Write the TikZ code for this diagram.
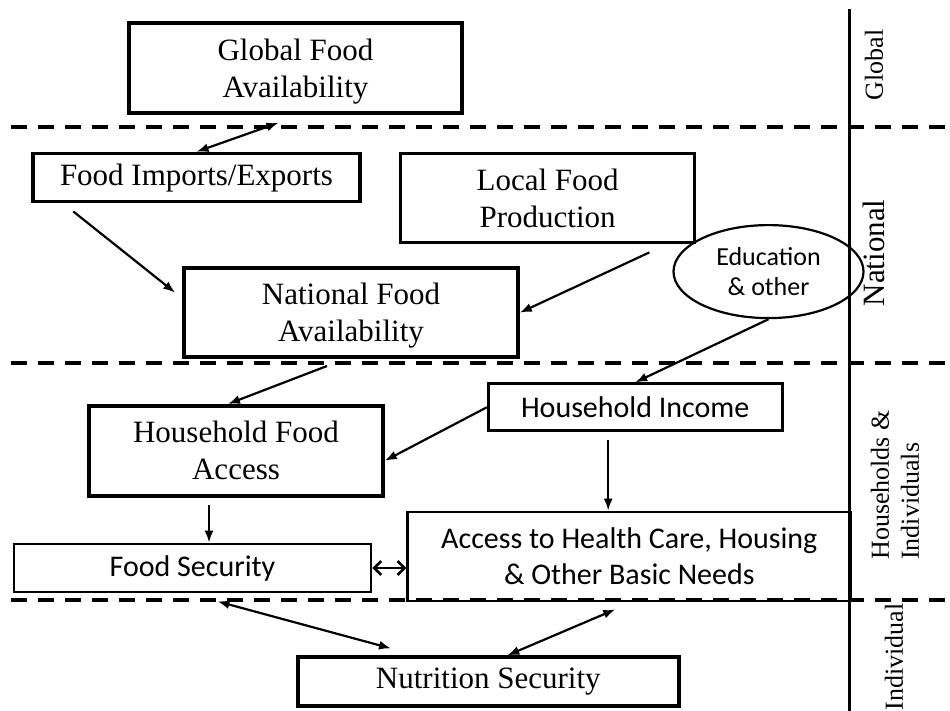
\documentclass[tikz,border=0pt]{standalone}
\usepackage{fontspec}
\setmainfont{Liberation Serif}
\newfontfamily\calibri{Carlito}
\usetikzlibrary{positioning, shapes.geometric, arrows.meta}

\tikzset{
  block/.style={draw, line width=3.6pt, inner sep=0pt, align=center, font=\fontsize{31}{37}\selectfont},
  sblock/.style={block, line width=2.8pt, font=\calibri\fontsize{30}{36}\selectfont},
  link/.style={line width=2.2pt, -{Latex[length=12pt,width=9pt]}},
  dlink/.style={line width=2.2pt, {Latex[length=12pt,width=9pt]}-{Latex[length=12pt,width=9pt]}},
  level/.style={rotate=90, inner sep=0pt, align=left, font=\fontsize{26}{30}\selectfont},
}

\begin{document}
\begin{tikzpicture}[x=1pt, y=-1pt]
  \useasboundingbox (0,0) rectangle (950,711);
  % dividers between the levels
  \foreach \yy in {127,363,600}
    \draw[line width=4pt, dash pattern=on 16pt off 11pt] (11,\yy) -- (950,\yy);
  \draw[line width=3pt] (849,9) -- (849,711);

  \node[level] (lglob) at (874,65) {Global};
  \node[level, font=\fontsize{31}{37}\selectfont] (lnat) at (874,253) {National};
  \node[level] (lhh) at (895,485) {Households \&\\Individuals};
  \node[level] (lind) at (894,657) {Individual};

  \node[block, text depth=0pt, minimum width=333pt, minimum height=90pt] (glob) at (295.5,68) {Global Food\\Availability};
  \node[block, minimum width=327pt, minimum height=48pt, below=37pt of glob, xshift=-99pt] (imp) {Food Imports/Exports};
  \node[block, minimum width=294pt, minimum height=89pt, right=37pt of imp, yshift=-20.5pt] (loc) {Local Food\\Production};
  \node[block, text depth=0pt, minimum width=334pt, minimum height=89pt, below=63pt of imp, xshift=154.5pt] (nat) {National Food\\Availability};
  \node[ellipse, draw, line width=2.2pt, minimum width=190pt, minimum height=93pt, inner sep=0pt, align=center,
        font=\calibri\fontsize{26}{30}\selectfont, right=-24pt of loc, yshift=-73.5pt] (edu) {Education\\\& other};

  \node[block, minimum width=294pt, minimum height=90pt, below=45pt of nat, xshift=-115pt] (hfa) {Household Food\\Access};
  \node[sblock, minimum width=294pt, minimum height=47pt, right=102pt of hfa, yshift=43.5pt] (inc) {Household Income};
  \node[sblock, minimum width=357pt, minimum height=48pt, below=45pt of hfa, xshift=-43.5pt] (fs) {Food Security};
  \node[sblock, minimum width=443pt, minimum height=89pt, right=34pt of fs, yshift=11.5pt] (acc) {Access to Health Care, Housing\\\& Other Basic Needs};
  \node[block, minimum width=381pt, minimum height=49pt, below=53pt of acc, xshift=-141pt] (nut) {Nutrition Security};

  \draw[dlink] (imp.north) -- ([xshift=-17pt,yshift=-8pt]glob.south);
  \draw[link] ([xshift=42pt,yshift=-8pt]imp.south west) -- ([xshift=-7pt,yshift=20pt]nat.west);
  \draw[link] ([xshift=-47pt,yshift=-8pt]loc.south east) -- (nat.east);
  \draw[link] (edu.south) -- (inc.north);
  \draw[link] ([xshift=-24pt,yshift=-7pt]nat.south) -- ([xshift=-8pt]hfa.north);
  \draw[link] (inc.west) -- ([yshift=-10pt]hfa.east);
  \draw[link] ([xshift=-27pt,yshift=-7pt]hfa.south) -- ([xshift=-27pt]hfa.south |- fs.north);
  \draw[link] ([xshift=-27pt,yshift=-8pt]inc.south) -- ([xshift=-27pt]inc.south |- acc.north);
  \draw[line width=2.6pt, {Straight Barb[length=7pt,width=14pt]}-{Straight Barb[length=7pt,width=14pt]}] (fs.east) -- (fs.east -| acc.west);
  \draw[dlink] ([xshift=25pt,yshift=-8pt]fs.south) -- ([xshift=95pt,yshift=7pt]nut.north west);
  \draw[dlink] ([xshift=-14pt,yshift=-7pt]acc.south) -- ([xshift=19pt]nut.north);
\end{tikzpicture}
\end{document}
